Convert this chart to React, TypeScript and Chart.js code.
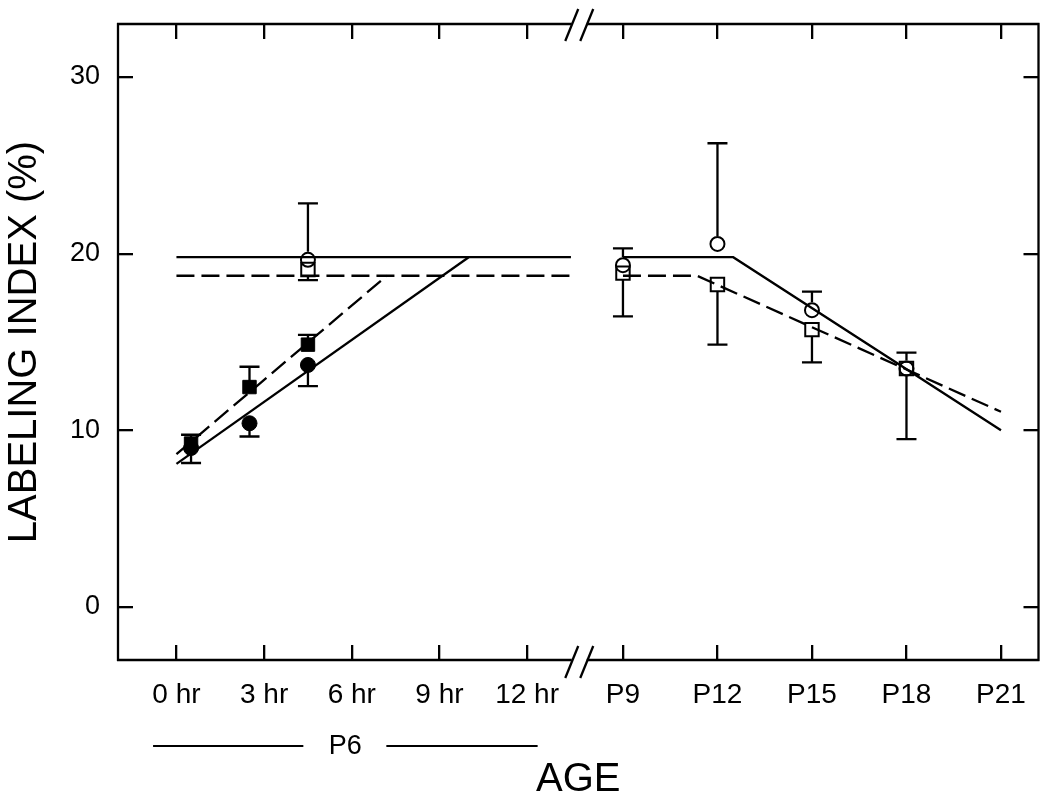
import React, { useEffect, useRef } from 'react';
import { Chart, registerables } from 'chart.js';

Chart.register(...registerables);

const FONT = '"Liberation Sans", Arial, Helvetica, sans-serif';

// ---------- axes ----------
const HOUR_TICKS = [0, 3, 6, 9, 12];
const HOUR_TICK_LABELS = ['0 hr', '3 hr', '6 hr', '9 hr', '12 hr'];
const DAY_TICKS = [9, 12, 15, 18, 21];
const DAY_TICK_LABELS = ['P9', 'P12', 'P15', 'P18', 'P21'];
const Y_TICKS = [0, 10, 20, 30];
const Y_MIN = -3;
const Y_MAX = 33;
const X_MIN = -2;
const X_MAX = 29.5;
const DAY_AXIS_ORIGIN = 15.28; // axis position of P9
const DAY_AXIS_SCALE = 1.078; // axis units per postnatal day
const BREAK_X = 13.63;
const dayToX = (d: number) => DAY_AXIS_ORIGIN + (d - 9) * DAY_AXIS_SCALE;

const Y_TITLE = 'LABELING INDEX (%)';
const X_TITLE = 'AGE';
const GROUP_LABEL = 'P6';
const GROUP_FROM_HR = -0.8;
const GROUP_TO_HR = 12.36;

// ---------- P6 hours data ----------
const HOURS = [0.5, 2.5, 4.5];
const filledCircleY = [9.0, 10.4, 13.7];
const filledCircleErrLow = [0.85, 0.75, 1.2];
const filledSquareY = [9.25, 12.45, 14.85];
const filledSquareErrHigh = [0.5, 1.15, 0.55];

const OPEN_HOURS = [4.5];
const openCircleHourY = [19.65];
const openCircleHourErrHigh = [3.2];
const openSquareHourY = [19.1];
const openSquareHourErrLow = [0.6];

// ---------- postnatal days data ----------
const DAYS = [9, 12, 15, 18];
const openCircleDayY = [19.35, 20.55, 16.8, 13.5];
const openCircleDayErrHigh = [0.95, 5.7, 1.05, 0.9];
const openSquareDayY = [18.9, 18.25, 15.7, 13.5];
const openSquareDayErrLow = [2.45, 3.4, 1.85, 4.0];

// ---------- fitted lines ----------
const solidRiseHours = [0, 10.0];
const solidRiseY = [8.1, 19.8];
const dashedRiseHours = [0, 7.2];
const dashedRiseY = [8.65, 18.75];
const plateauHours = [0, 13.5];
const solidPlateauY = [19.8, 19.8];
const dashedPlateauY = [18.75, 18.75];
const solidDayFitDays = [9, 12.5, 21];
const solidDayFitY = [19.8, 19.8, 10.0];
const dashedDayFitDays = [9, 11.35, 21];
const dashedDayFitY = [18.75, 18.75, 11.05];

const pts = (xs: number[], ys: number[]) => xs.map((x, i) => ({ x, y: ys[i] }));
const dayPts = (ds: number[], ys: number[]) => ds.map((d, i) => ({ x: dayToX(d), y: ys[i] }));

const ALL_TICK_POS = [...HOUR_TICKS, ...DAY_TICKS.map(dayToX)];
const ALL_TICK_LABELS = [...HOUR_TICK_LABELS, ...DAY_TICK_LABELS];

type ErrSpec = { xs: number[]; ys: number[]; errs: number[]; dir: number; gap: number };
const ERROR_BARS: ErrSpec[] = [
  { xs: HOURS, ys: filledCircleY, errs: filledCircleErrLow, dir: -1, gap: 0 },
  { xs: HOURS, ys: filledSquareY, errs: filledSquareErrHigh, dir: 1, gap: 0 },
  { xs: OPEN_HOURS, ys: openCircleHourY, errs: openCircleHourErrHigh, dir: 1, gap: 8 },
  { xs: OPEN_HOURS, ys: openSquareHourY, errs: openSquareHourErrLow, dir: -1, gap: 7 },
  { xs: DAYS.map(dayToX), ys: openCircleDayY, errs: openCircleDayErrHigh, dir: 1, gap: 8 },
  { xs: DAYS.map(dayToX), ys: openSquareDayY, errs: openSquareDayErrLow, dir: -1, gap: 7 },
];

const LW = 2.3;

const errorBarPlugin = {
  id: 'errorBars',
  beforeDatasetsDraw(chart: any) {
    const { ctx, scales } = chart;
    const xs = scales.x;
    const ys = scales.y;
    ctx.save();
    ctx.strokeStyle = '#000';
    ctx.lineWidth = LW;
    const cap = 10;
    ERROR_BARS.forEach((s) => {
      s.xs.forEach((xv, i) => {
        const px = xs.getPixelForValue(xv);
        const py0 = ys.getPixelForValue(s.ys[i]);
        const py1 = ys.getPixelForValue(s.ys[i] + s.dir * s.errs[i]);
        const start = py0 - s.dir * s.gap;
        ctx.beginPath();
        ctx.moveTo(px, start);
        ctx.lineTo(px, py1);
        ctx.moveTo(px - cap, py1);
        ctx.lineTo(px + cap, py1);
        ctx.stroke();
      });
    });
    ctx.restore();
  },
};

const framePlugin = {
  id: 'frame',
  afterDraw(chart: any) {
    const { ctx, chartArea, scales } = chart;
    const { left, right, top, bottom } = chartArea;
    const xs = scales.x;
    const bx = xs.getPixelForValue(BREAK_X);
    const g1 = bx - 3;
    const g2 = bx + 12;
    ctx.save();
    ctx.strokeStyle = '#000';
    ctx.lineWidth = LW;
    ctx.lineCap = 'butt';
    ctx.beginPath();
    ctx.moveTo(left, top - 1);
    ctx.lineTo(left, bottom + 1);
    ctx.moveTo(right, top - 1);
    ctx.lineTo(right, bottom + 1);
    ctx.moveTo(left - 1, top);
    ctx.lineTo(g1, top);
    ctx.moveTo(g2, top);
    ctx.lineTo(right + 1, top);
    ctx.moveTo(left - 1, bottom);
    ctx.lineTo(g1, bottom);
    ctx.moveTo(g2, bottom);
    ctx.lineTo(right + 1, bottom);
    ctx.stroke();
    // break marks
    const slash = (cx: number, cy: number) => {
      ctx.beginPath();
      ctx.moveTo(cx - 6.5, cy + 16);
      ctx.lineTo(cx + 6.5, cy - 16);
      ctx.stroke();
    };
    slash(g1, top + 1);
    slash(g2, top + 1);
    slash(g1, bottom + 2);
    slash(g2, bottom + 2);

    // P6 group label
    const gy = bottom + 86;
    const a = xs.getPixelForValue(GROUP_FROM_HR);
    const b = xs.getPixelForValue(GROUP_TO_HR);
    const mid = (a + b) / 2;
    ctx.lineWidth = 2;
    ctx.beginPath();
    ctx.moveTo(a, gy);
    ctx.lineTo(mid - 42, gy);
    ctx.moveTo(mid + 41, gy);
    ctx.lineTo(b, gy);
    ctx.stroke();
    ctx.fillStyle = '#000';
    ctx.font = `27px ${FONT}`;
    ctx.textAlign = 'center';
    ctx.textBaseline = 'middle';
    ctx.fillText(GROUP_LABEL, mid, gy + 1);
    ctx.restore();
  },
};

const zeroPad = (s: any) => {
  s.paddingTop = 0;
  s.paddingBottom = 0;
  s.paddingLeft = 0;
  s.paddingRight = 0;
};

export default function App() {
  const canvasRef = useRef<HTMLCanvasElement | null>(null);

  useEffect(() => {
    const canvas = canvasRef.current;
    if (!canvas) return;

    const tickGrid = {
      display: true,
      drawOnChartArea: false,
      drawTicks: true,
      tickLength: -15,
      tickWidth: LW,
      color: '#000',
      lineWidth: LW,
    };

    const filled = (data: any[], style: string, radius: number) => ({
      type: 'scatter' as const,
      data,
      showLine: false,
      pointStyle: style,
      pointRadius: radius,
      pointBackgroundColor: '#000',
      pointBorderColor: '#000',
      pointBorderWidth: 1,
      order: 0,
    });
    const open = (data: any[], style: string, radius: number) => ({
      type: 'scatter' as const,
      data,
      showLine: false,
      pointStyle: style,
      pointRadius: radius,
      pointBackgroundColor: 'rgba(0,0,0,0)',
      pointBorderColor: '#000',
      pointBorderWidth: 2,
      order: 0,
    });
    const line = (data: any[], dashed: boolean) => ({
      type: 'scatter' as const,
      data,
      showLine: true,
      pointRadius: 0,
      borderColor: '#000',
      borderWidth: LW,
      borderDash: dashed ? [18, 7] : [],
      fill: false,
      order: 1,
    });

    const chart = new Chart(canvas, {
      type: 'scatter',
      data: {
        datasets: [
          filled(pts(HOURS, filledCircleY), 'circle', 7.5),
          filled(pts(HOURS, filledSquareY), 'rect', 9.5),
          open(pts(OPEN_HOURS, openCircleHourY), 'circle', 7),
          open(pts(OPEN_HOURS, openSquareHourY), 'rect', 9.5),
          open(dayPts(DAYS, openCircleDayY), 'circle', 7),
          open(dayPts(DAYS, openSquareDayY), 'rect', 9.5),
          line(pts(solidRiseHours, solidRiseY), false),
          line(pts(dashedRiseHours, dashedRiseY), true),
          line(pts(plateauHours, solidPlateauY), false),
          line(pts(plateauHours, dashedPlateauY), true),
          line(dayPts(solidDayFitDays, solidDayFitY), false),
          line(dayPts(dashedDayFitDays, dashedDayFitY), true),
        ] as any,
      },
      options: {
        animation: false,
        responsive: false,
        devicePixelRatio: 1,
        layout: { padding: { left: 0, top: 24, right: 11, bottom: 0 } },
        plugins: {
          legend: { display: false },
          tooltip: { enabled: false },
        },
        scales: {
          x: {
            type: 'linear',
            position: 'bottom',
            min: X_MIN,
            max: X_MAX,
            border: { display: false },
            grid: tickGrid,
            afterBuildTicks: (s: any) => {
              s.ticks = ALL_TICK_POS.map((v) => ({ value: v }));
            },
            afterFit: (s: any) => {
              s.height = 143;
              zeroPad(s);
            },
            ticks: {
              autoSkip: false,
              maxRotation: 0,
              minRotation: 0,
              padding: 33,
              color: '#000',
              font: { family: FONT, size: 28 },
              callback: (_v: any, i: number) => ALL_TICK_LABELS[i],
            },
            title: {
              display: true,
              text: X_TITLE,
              color: '#000',
              font: { family: FONT, size: 40, lineHeight: 1.15 },
              padding: { top: 0, bottom: 0 },
            },
          },
          x2: {
            type: 'linear',
            position: 'top',
            min: X_MIN,
            max: X_MAX,
            border: { display: false },
            grid: tickGrid,
            afterBuildTicks: (s: any) => {
              s.ticks = ALL_TICK_POS.map((v) => ({ value: v }));
            },
            afterFit: (s: any) => {
              s.height = 0;
              zeroPad(s);
            },
            ticks: { display: false },
          },
          y: {
            type: 'linear',
            position: 'left',
            min: Y_MIN,
            max: Y_MAX,
            border: { display: false },
            grid: tickGrid,
            afterBuildTicks: (s: any) => {
              s.ticks = Y_TICKS.map((v) => ({ value: v }));
            },
            afterFit: (s: any) => {
              s.width = 118;
              zeroPad(s);
            },
            ticks: {
              padding: 33,
              color: '#000',
              font: { family: FONT, size: 27 },
              callback: (v: any) => String(v),
            },
            title: {
              display: true,
              text: Y_TITLE,
              color: '#000',
              font: { family: FONT, size: 40, lineHeight: 1.2 },
              padding: { top: 0.5, bottom: 0 },
            },
          },
          y2: {
            type: 'linear',
            position: 'right',
            min: Y_MIN,
            max: Y_MAX,
            border: { display: false },
            grid: tickGrid,
            afterBuildTicks: (s: any) => {
              s.ticks = Y_TICKS.map((v) => ({ value: v }));
            },
            afterFit: (s: any) => {
              s.width = 0;
              zeroPad(s);
            },
            ticks: { display: false },
          },
        },
      } as any,
      plugins: [errorBarPlugin, framePlugin],
    });

    return () => chart.destroy();
  }, []);

  return (
    <div style={{ position: 'absolute', left: 0, top: 0, width: 1050, height: 803, background: '#fff' }}>
      <canvas ref={canvasRef} width={1050} height={803} style={{ display: 'block' }} />
    </div>
  );
}
